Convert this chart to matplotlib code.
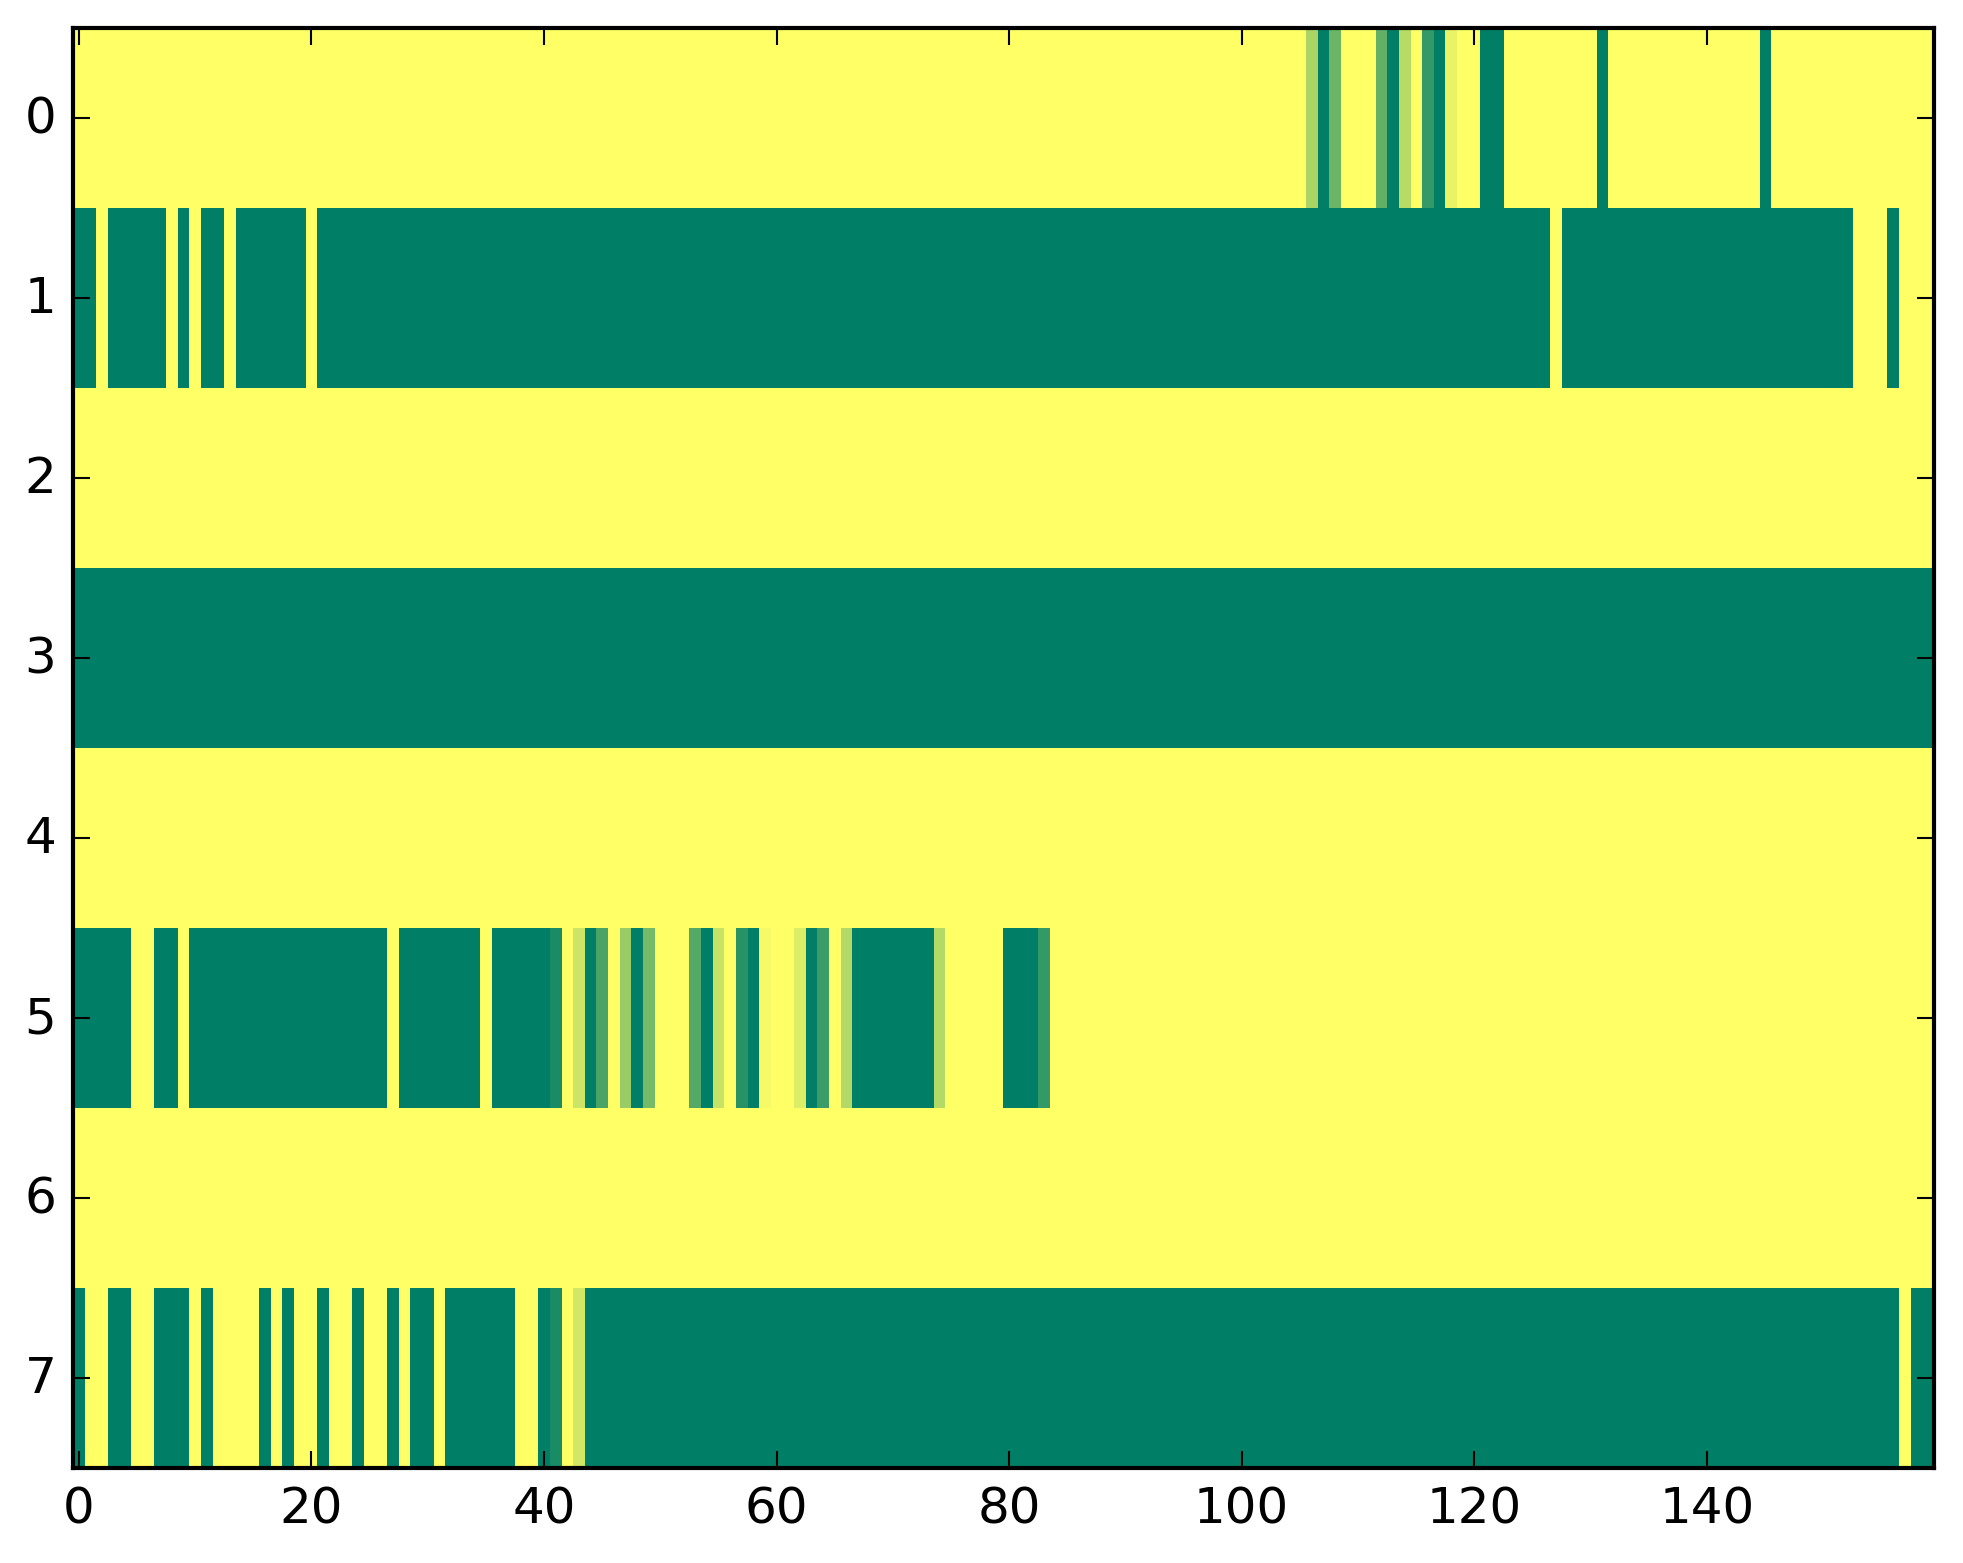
import numpy as np
import matplotlib
matplotlib.use('Agg')
from matplotlib import pyplot as plt

#==============================================================================
# values: 1 = yellow, 0 = dark green (summer colormap)
row0 = [1] * 100 + [
    1, 1, 1, 1, 1, 1, 0.67, 0, 0.42, 1, 1, 1, 0.38, 0, 0.72, 1, 0.2, 0, 0.91, 1,
    1, 0, 0, 1, 1, 1, 1, 1, 1, 1, 1, 0, 1, 1, 1, 1, 1, 1, 1, 1,
    1, 1, 1, 1, 1, 0, 1, 1, 1, 1, 1, 1, 1, 1, 1, 1, 1, 1, 1, 1]

row1 = [
    0, 0, 1, 0, 0, 0, 0, 0, 1, 0, 1, 0, 0, 1, 0, 0, 0, 0, 0, 0,
    1, 0, 0, 0, 0, 0, 0, 0, 0, 0, 0, 0, 0, 0, 0, 0, 0, 0, 0, 0] + [0] * 80 + [
    0, 0, 0, 0, 0, 0, 0, 1, 0, 0, 0, 0, 0, 0, 0, 0, 0, 0, 0, 0,
    0, 0, 0, 0, 0, 0, 0, 0, 0, 0, 0, 0, 0, 1, 1, 1, 0, 1, 1, 1]

row2 = [1] * 160
row3 = [0] * 160
row4 = [1] * 160

row5 = [
    0, 0, 0, 0, 0, 1, 1, 0, 0, 1, 0, 0, 0, 0, 0, 0, 0, 0, 0, 0,
    0, 0, 0, 0, 0, 0, 0, 1, 0, 0, 0, 0, 0, 0, 0, 1, 0, 0, 0, 0,
    0, 0.1, 1, 0.8, 0, 0.29, 1, 0.6, 0, 0.46, 1, 1, 1, 0.33, 0, 0.78, 1, 0.15, 0, 0.96,
    1, 1, 0.86, 0, 0.23, 1, 0.7, 0, 0, 0, 0, 0, 0, 0, 0.7, 1, 1, 1, 1, 1,
    0, 0, 0, 0.2, 1, 1, 1, 1, 1, 1, 1, 1, 1, 1, 1, 1, 1, 1, 1, 1] + [1] * 60

row6 = [1] * 160

row7 = [
    0, 1, 1, 0, 0, 1, 1, 0, 0, 0, 1, 0, 1, 1, 1, 1, 0, 1, 0, 1,
    1, 0, 1, 1, 0, 1, 1, 0, 1, 0, 0, 1, 0, 0, 0, 0, 0, 0, 1, 1,
    0, 0.1, 1, 0.82, 0, 0, 0, 0, 0, 0, 0, 0, 0, 0, 0, 0, 0, 0, 0, 0] + [0] * 80 + [
    0, 0, 0, 0, 0, 0, 0, 0, 0, 0, 0, 0, 0, 0, 0, 0, 0, 1, 0, 0]

xTicks = [0, 20, 40, 60, 80, 100, 120, 140]
yTicks = [0, 1, 2, 3, 4, 5, 6, 7]

#==============================================================================
def main():
    plt.style.use('classic')
    data = np.array([row0, row1, row2, row3, row4, row5, row6, row7])

    fig = plt.figure(figsize=(1963 / 300.0, 1564 / 300.0), dpi=300)
    ax = fig.add_axes([0.0372, 0.0607, 0.9478, 0.9207])
    ax.imshow(data, cmap='summer', aspect='auto', interpolation='nearest',
              vmin=0, vmax=1)
    ax.set_xticks(xTicks)
    ax.set_yticks(yTicks)
    ax.set_xlim(-0.5, data.shape[1] - 0.5)
    ax.set_ylim(data.shape[0] - 0.5, -0.5)
    fig.savefig('out.png', dpi=300)


if __name__ == "__main__":
    main()
